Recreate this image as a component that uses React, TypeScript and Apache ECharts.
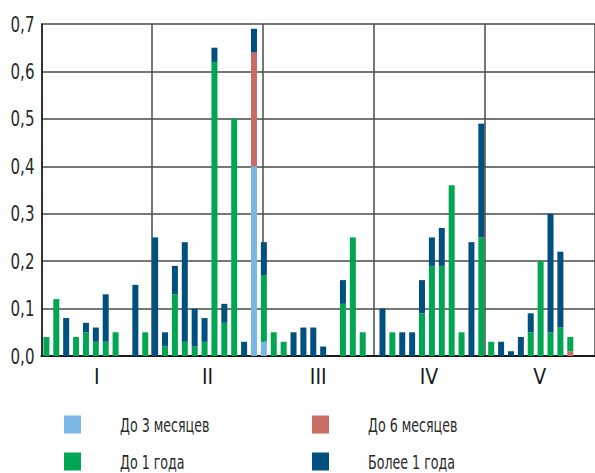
import React, { useEffect, useRef } from "react";
import * as echarts from "echarts";

const slots: string[] = Array.from({ length: 56 }, (_, i) => String(i + 1));
const groups = ["I", "II", "III", "IV", "V"];
const seriesNames = ["До 3 месяцев", "До 6 месяцев", "До 1 года", "Более 1 года"];
const yTicks = [0, 0.1, 0.2, 0.3, 0.4, 0.5, 0.6, 0.7];

// 56 slots, values per series (stacked)
const upTo3m = [
  0, 0, 0, 0, 0, 0, 0, 0, 0, 0, 0, 0, 0, 0, 0, 0, 0, 0, 0, 0, 0, 0.40, 0.03, 0, 0, 0, 0, 0,
  0, 0, 0, 0, 0, 0, 0, 0, 0, 0, 0, 0, 0, 0, 0, 0, 0, 0, 0, 0, 0, 0, 0, 0, 0, 0, 0, 0,
];
const upTo6m = [
  0, 0, 0, 0, 0, 0, 0, 0, 0, 0, 0, 0, 0, 0, 0, 0, 0, 0, 0, 0, 0, 0.24, 0, 0, 0, 0, 0, 0,
  0, 0, 0, 0, 0, 0, 0, 0, 0, 0, 0, 0, 0, 0, 0, 0, 0, 0, 0, 0, 0, 0, 0, 0, 0, 0.01, 0, 0,
];
const upTo1y = [
  0.04, 0.12, 0, 0.04, 0.05, 0.03, 0.03, 0.05, 0, 0, 0.05, 0, 0.02, 0.13, 0.03, 0.02, 0.03, 0.62, 0.07, 0.50, 0, 0, 0.14, 0.05, 0.03, 0, 0, 0,
  0, 0, 0.11, 0.25, 0.05, 0, 0, 0.05, 0, 0, 0.09, 0.19, 0.19, 0.36, 0.05, 0, 0.25, 0.03, 0, 0, 0, 0.05, 0.20, 0.05, 0.06, 0.03, 0, 0,
];
const over1y = [
  0, 0, 0.08, 0, 0.02, 0.03, 0.10, 0, 0, 0.15, 0, 0.25, 0.03, 0.06, 0.21, 0.08, 0.05, 0.03, 0.04, 0, 0.03, 0.05, 0.07, 0, 0, 0.05, 0.06, 0.06,
  0.02, 0, 0.05, 0, 0, 0, 0.10, 0, 0.05, 0.05, 0.07, 0.06, 0.08, 0, 0, 0.24, 0.24, 0, 0.03, 0.01, 0.04, 0.04, 0, 0.25, 0.16, 0, 0, 0,
];

const colors = ["#7ab6e4", "#c86c65", "#00a651", "#00507f"];
const FONT = "'Liberation Sans Narrow', 'DejaVu Sans Condensed', 'Roboto Condensed', sans-serif";

export default function App() {
  const ref = useRef<HTMLDivElement>(null);
  useEffect(() => {
    document.body.style.margin = "0";
    if (!ref.current) return;
    const el = ref.current;
    const chart = echarts.init(el, undefined, { renderer: "svg" });
    const values = [upTo3m, upTo6m, upTo1y, over1y];
    const legendPos = [
      { left: 64, top: 415 },
      { left: 312, top: 415 },
      { left: 64, top: 452 },
      { left: 312, top: 452 },
    ];
    chart.setOption({
      animation: false,
      grid: { left: 40, top: 24, width: 556, bottom: 117, containLabel: false },
      legend: seriesNames.map((n, i) => ({
        data: [n],
        left: legendPos[i].left,
        top: legendPos[i].top,
        icon: "rect",
        itemWidth: 17,
        itemHeight: 18,
        padding: 0,
        selectedMode: false,
        textStyle: { fontFamily: FONT, fontSize: 19, color: "#2a2a2a", padding: [0, 0, 0, 34] },
      })),
      xAxis: [
        {
          type: "category",
          data: slots,
          show: false,
        },
        {
          type: "category",
          data: groups,
          position: "bottom",
          boundaryGap: true,
          axisLine: { show: true, lineStyle: { color: "#1a1a1a", width: 2 } },
          axisTick: { show: false },
          axisLabel: { fontFamily: FONT, fontSize: 21, color: "#1a1a1a", margin: 10 },
          splitLine: { show: true, lineStyle: { color: "#4a4a4a", width: 1.5 } },
        },
      ],
      yAxis: {
        type: "value",
        min: yTicks[0],
        max: yTicks[yTicks.length - 1],
        interval: 0.1,
        axisLine: { show: true, lineStyle: { color: "#1a1a1a", width: 1.5 } },
        axisTick: { show: false },
        axisLabel: {
          fontFamily: FONT,
          fontSize: 22,
          color: "#2a2a2a",
          margin: 7,
          formatter: (v: number) => v.toFixed(1).replace(".", ","),
        },
        splitLine: { show: true, lineStyle: { color: "#4a4a4a", width: 1.5 } },
      },
      series: seriesNames.map((n, i) => ({
        name: n,
        type: "bar",
        stack: "total",
        xAxisIndex: 0,
        barWidth: 6,
        itemStyle: { color: colors[i] },
        data: values[i].map((v) => (v === 0 ? null : v)),
      })),
    });

    // Narrow the glyphs to mimic the condensed typeface of the original.
    const narrow = () => {
      el.querySelectorAll("svg text").forEach((node) => {
        const t = node as SVGTextElement;
        const s = (t.textContent || "").trim();
        if (/^[IV]+$/.test(s)) return;
        let f = 0.74;
        if (/^\d,\d$/.test(s)) f = 0.76;
        let w0 = parseFloat(t.getAttribute("data-w0") || "");
        if (!w0) {
          w0 = t.getComputedTextLength();
          if (!(w0 > 0)) return;
          t.setAttribute("data-w0", String(w0));
        }
        t.setAttribute("textLength", String(w0 * f));
        t.setAttribute("lengthAdjust", "spacingAndGlyphs");
      });
    };
    narrow();
    chart.on("finished", narrow);
    const raf = requestAnimationFrame(narrow);
    return () => {
      cancelAnimationFrame(raf);
      chart.dispose();
    };
  }, []);
  return <div ref={ref} style={{ width: 595, height: 473 }} />;
}
